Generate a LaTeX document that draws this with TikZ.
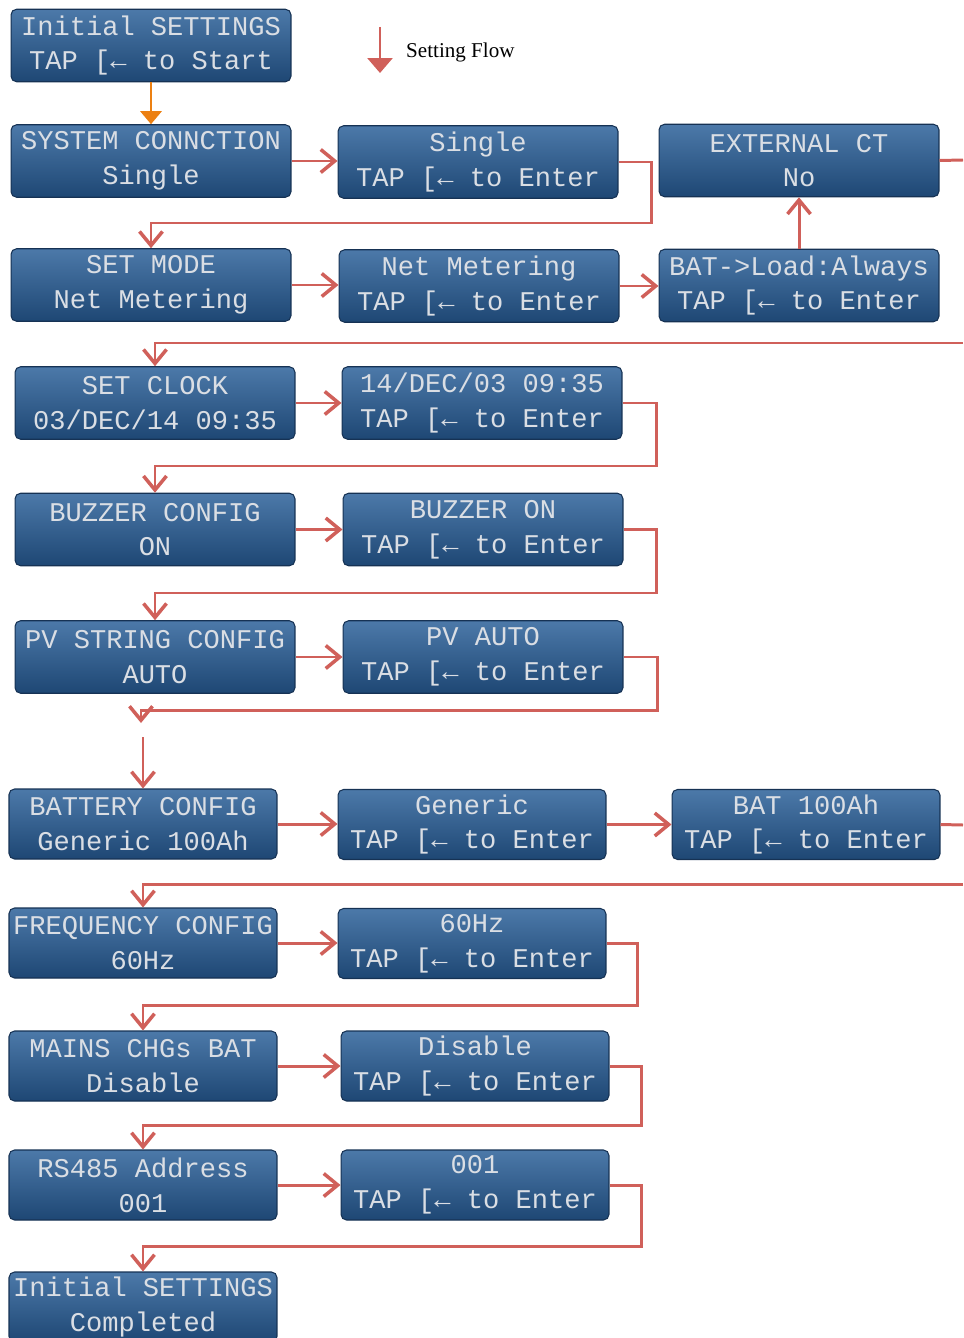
\documentclass[tikz,border=0pt]{standalone}
\usepackage{fontspec}
\setmainfont{Liberation Serif}
\newfontfamily\lcdfont{Liberation Mono}
\usepackage{tikz}
\usetikzlibrary{positioning,arrows.meta,calc}

\definecolor{lcdtop}{RGB}{76,121,169}
\definecolor{lcdbot}{RGB}{30,71,116}
\definecolor{lcdedge}{RGB}{22,50,84}
\definecolor{lcdtext}{RGB}{218,222,228}
\definecolor{flowred}{RGB}{208,96,90}
\definecolor{floworange}{RGB}{236,128,18}

\begin{document}
\begin{tikzpicture}[
  x=0.02cm, y=-0.02cm,
  lcd/.style={rectangle, rounded corners=1.1mm, draw=lcdedge, line width=0.6pt,
    top color=lcdtop, bottom color=lcdbot, text=lcdtext, align=center,
    inner sep=0pt, font=\lcdfont\fontsize{15.4}{19.8}\selectfont},
  lcdw/.style={lcd, minimum width=5.6cm, minimum height=1.45cm},
  lcdn/.style={lcd, minimum width=5.36cm, minimum height=1.4cm},
  flow/.style={draw=flowred, line width=1.7pt, line join=miter,
    -{Straight Barb[length=2.8mm, width=4.6mm, line width=2pt]}},
  flowend/.style={draw=flowred, line width=1.7pt},
  start/.style={draw=floworange, line width=1.7pt,
    -{Triangle[length=2.6mm, width=4.2mm]}},
  legend/.style={draw=flowred, line width=1.7pt,
    -{Triangle[length=3mm, width=5mm]}}
]
\useasboundingbox (0,0) rectangle (963,1338);

% legend
\coordinate (lgA) at (380,27);
\coordinate (lgB) at (380,73);
\draw[legend] (lgA) -- (lgB);
\node[anchor=west, font=\fontsize{12}{14}\selectfont] (lgtxt) at (400,52) {Setting Flow};

% rows 1--3
\node[lcdw] (init) at (151,45.5) {Initial SETTINGS\\TAP [← to Start};
\node[lcdw] (sys) at (151,161) {SYSTEM CONNCTION\\Single};
\node[lcdw] (sing) at (478,162) {Single\\TAP [← to Enter};
\node[lcdw] (ext) at (799,160.5) {EXTERNAL CT\\No};
\node[lcdw] (mode) at (151,285) {SET MODE\\Net Metering};
\node[lcdw] (net) at (479,286) {Net Metering\\TAP [← to Enter};
\node[lcdw] (batload) at (799,285.5) {BAT->Load:Always\\TAP [← to Enter};

% rows 4--6
\node[lcdw] (clock) at (155,403) {SET CLOCK\\03/DEC/14 09:35};
\node[lcdw] (date) at (482,403) {14/DEC/03 09:35\\TAP [← to Enter};
\node[lcdw] (buzz) at (155,529.5) {BUZZER CONFIG\\ON};
\node[lcdw] (buzzon) at (483,529.5) {BUZZER ON\\TAP [← to Enter};
\node[lcdw] (pv) at (155,657) {PV STRING CONFIG\\AUTO};
\node[lcdw] (pvauto) at (483,657) {PV AUTO\\TAP [← to Enter};

% rows 7--11
\node[lcdn] (batt) at (143,824) {BATTERY CONFIG\\Generic 100Ah};
\node[lcdn] (generic) at (472,824.5) {Generic\\TAP [← to Enter};
\node[lcdn] (bat100) at (806,824.5) {BAT 100Ah\\TAP [← to Enter};
\node[lcdn] (freq) at (143,943) {FREQUENCY CONFIG\\60Hz};
\node[lcdn] (hz) at (472,943.5) {60Hz\\TAP [← to Enter};
\node[lcdn] (mains) at (143,1066) {MAINS CHGs BAT\\Disable};
\node[lcdn] (disable) at (475,1066) {Disable\\TAP [← to Enter};
\node[lcdn] (rs) at (143,1185) {RS485 Address\\001};
\node[lcdn] (addr) at (475,1185) {001\\TAP [← to Enter};
\node[lcdn] (done) at (143,1307) {Initial SETTINGS\\Completed};

% bends
\coordinate (b1) at (651,223);
\coordinate (b2) at (963,343);
\coordinate (b3) at (656,466);
\coordinate (b4) at (656,593);
\coordinate (b5) at (657,710);
\coordinate (b5x) at (141,723);
\coordinate (b5y) at (143,737);
\coordinate (b6) at (963,884);
\coordinate (b7) at (637,1005);
\coordinate (b8) at (641,1125);
\coordinate (b9) at (641,1246);
\coordinate (ex1) at (963,160);
\coordinate (ex2) at (963,825);

\draw[start] (init) -- (sys);

\draw[flow] (sys) -- (sys -| sing.west);
\draw[flow] (sing.east) -| (b1) -| (mode.north);
\draw[flow] (mode) -- (mode -| net.west);
\draw[flow] (net) -- (net -| batload.west);
\draw[flow] (batload) -- (ext);
\draw[flowend] (ext.east) -- (ex1);
\draw[flow] (b2) -| (clock.north);

\draw[flow] (clock) -- (clock -| date.west);
\draw[flow] (date.east) -| (b3) -| (buzz.north);
\draw[flow] (buzz) -- (buzz -| buzzon.west);
\draw[flow] (buzzon.east) -| (b4) -| (pv.north);
\draw[flow] (pv) -- (pv -| pvauto.west);
\draw[flow] (pvauto.east) -| (b5) -| (b5x);
\draw[flow] (b5y) -- (batt.north);

\draw[flow] (batt) -- (batt -| generic.west);
\draw[flow] (generic) -- (generic -| bat100.west);
\draw[flowend] (bat100.east) -- (ex2);
\draw[flow] (b6) -| (freq.north);
\draw[flow] (freq) -- (freq -| hz.west);
\draw[flow] (hz.east) -| (b7) -| (mains.north);
\draw[flow] (mains) -- (mains -| disable.west);
\draw[flow] (disable.east) -| (b8) -| (rs.north);
\draw[flow] (rs) -- (rs -| addr.west);
\draw[flow] (addr.east) -| (b9) -| (done.north);

\end{tikzpicture}
\end{document}
